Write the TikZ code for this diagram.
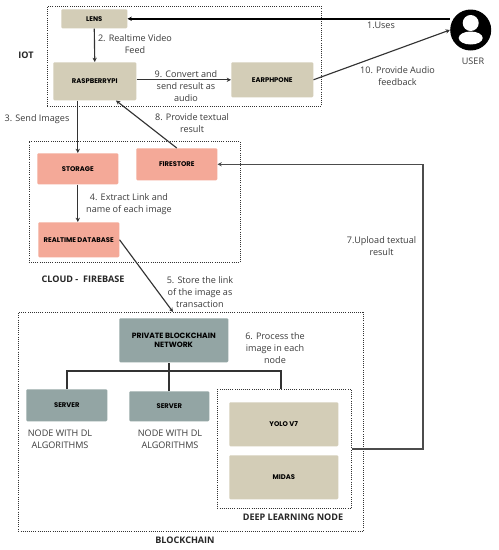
\documentclass[tikz,border=0pt]{standalone}
\usepackage{fontspec}
\setmainfont{Open Sans}
\newfontfamily\labfont{Poppins}[UprightFont=*-Bold]
\usetikzlibrary{calc,arrows.meta}
\definecolor{sand}{HTML}{D3CDB7}
\definecolor{salmon}{HTML}{F4A998}
\definecolor{slate}{HTML}{93A5A4}
\definecolor{ink}{HTML}{333333}
\definecolor{txt}{HTML}{3C3C3C}
\tikzset{
 box/.style={rounded corners=0.8pt,inner sep=0pt,align=center,text=black,font=\labfont\fontsize{5.1}{6.2}\selectfont},
 sandbox/.style={box,fill=sand},
 salmonbox/.style={box,fill=salmon},
 slatebox/.style={box,fill=slate},
 group/.style={draw=black!80,densely dotted,line width=0.6pt,inner sep=0pt},
 lbl/.style={align=center,text=txt,inner sep=0pt,font=\fontsize{6.8}{9.1}\selectfont},
 head/.style={align=center,text=black!85,inner sep=0pt,font=\bfseries\fontsize{6.8}{8}\selectfont},
 conn/.style={draw=ink,line width=0.85pt,-{Stealth[length=3.2pt,width=3.2pt]}},
 plain/.style={draw=ink,line width=1.2pt},
}
\begin{document}
\begin{tikzpicture}[x=0.75pt,y=-0.75pt]
\useasboundingbox (0,0) rectangle (499,550);
\fill[white] (0,0) rectangle (499,550);
% groups
\node[group,minimum width=205.5pt,minimum height=75pt,anchor=north west] (iot) at (47,6) {};
\node[group,minimum width=158.25pt,minimum height=90.75pt,anchor=north west] (cloud) at (28.5,141) {};
\node[group,minimum width=258.4pt,minimum height=164.25pt,anchor=north west] (chain) at (18,312) {};
\node[group,minimum width=100.5pt,minimum height=89.25pt,anchor=north west] (dl) at (217,389) {};
% nodes
\node[sandbox,minimum width=49.5pt,minimum height=14.25pt,anchor=north west] (lens) at (61,9) {LENS};
\node[sandbox,minimum width=62.25pt,minimum height=28.5pt,anchor=north west] (rasp) at (53,62) {RASPBERRYPI};
\node[sandbox,minimum width=61.5pt,minimum height=26.25pt,anchor=north west] (ear) at (231,62) {EARPHPONE};
\node[salmonbox,minimum width=60.75pt,minimum height=23.25pt,anchor=north west] (stor) at (37,153) {STORAGE};
\node[salmonbox,minimum width=60.75pt,minimum height=24pt,anchor=north west] (fire) at (136,148) {FIRESTORE};
\node[salmonbox,minimum width=60.75pt,minimum height=26.25pt,anchor=north west] (rtdb) at (38,222) {REALTIME DATABASE};
\node[slatebox,minimum width=81.75pt,minimum height=33pt,anchor=north west,font=\labfont\fontsize{5.7}{6.4}\selectfont] (priv) at (119,318) {PRIVATE BLOCKCHAIN\\NETWORK};
\node[slatebox,minimum width=60.75pt,minimum height=24pt,anchor=north west] (srva) at (26,389) {SERVER};
\node[slatebox,minimum width=60pt,minimum height=22.5pt,anchor=north west] (srvb) at (129,391) {SERVER};
\node[sandbox,minimum width=81.75pt,minimum height=33pt,anchor=north west] (yolo) at (229,402) {YOLO V7};
\node[sandbox,minimum width=81.75pt,minimum height=33pt,anchor=north west] (midas) at (229,455) {MIDAS};
% user icon
\node[circle,fill=black,minimum size=30.75pt,inner sep=0pt] (user) at (470.7,30) {};
\fill[white] (470.7,23) circle[radius=8];
\fill[white] (470.7,38) ellipse[x radius=12,y radius=6.5];
% coordinates on borders
\coordinate (rasphit) at ($(rasp.south west)+(63,0)$);
\coordinate (chainhit) at ($(chain.north west)+(155,0)$);
\coordinate (bus) at (169,371);
\coordinate (dlhit) at ($(dl.north west)+(64,0)$);
\coordinate (dlout) at (352,449);
\coordinate (upl) at (423,449);
% connectors
\draw[conn,draw=black,line width=1.1pt] (user.west |- lens.east) -- (lens.east);
\draw[conn] (lens.south) -- (rasp.north);
\draw[conn] (rasp.east |- ear.west) -- (ear.west);
\draw[conn] (stor.north |- rasp.south) -- (stor.north);
\draw[conn] (stor.south) -- (rtdb.north -| stor.south);
\draw[conn] (fire.north) -- (rasphit);
\draw[conn] (ear.east) -- (user.west);
\draw[conn] (rtdb.east) -- (chainhit);
\draw[plain] (srva.north) |- (bus) -| (dlhit);
\draw[plain] (srvb.north) -- (srvb.north |- priv.south);
\draw[conn,line width=1.1pt,draw=black!70] (dlout) -- (upl) |- (fire.east);
% labels
\node[lbl] (l1) at (381,25) {1.Uses};
\node[lbl] (l2) at (135,44) {2. Realtime Video\\Feed};
\node[lbl] (l3) at (37,119) {3. Send Images};
\node[lbl] (l4) at (129,204.5) {4. Extract Link and\\name of each image};
\node[lbl] (l5) at (200,292) {5. Store the link\\of the image as\\transaction};
\node[lbl] (l6) at (275,348) {6. Process the\\image in each\\node};
\node[lbl] (l7) at (381.5,246) {7.Upload textual\\result};
\node[lbl] (l8) at (192,123.5) {8. Provide textual\\result};
\node[lbl] (l9) at (186,86) {9. Convert and\\send result as\\audio};
\node[lbl] (l10) at (397.5,76.5) {10. Provide Audio\\feedback};
\node[lbl] (lu) at (473,61.5) {USER};
\node[lbl] (na) at (60,439.5) {NODE WITH DL\\ALGORITHMS};
\node[lbl] (nb) at (170,439.5) {NODE WITH DL\\ALGORITHMS};
\node[head] (hi) at (26,55) {IOT};
\node[head] (hc) at (83,279) {CLOUD -\ \ FIREBASE};
\node[head] (hb) at (185,540) {BLOCKCHAIN};
\node[head] (hd) at (293,517) {DEEP LEARNING NODE};
\end{tikzpicture}
\end{document}
